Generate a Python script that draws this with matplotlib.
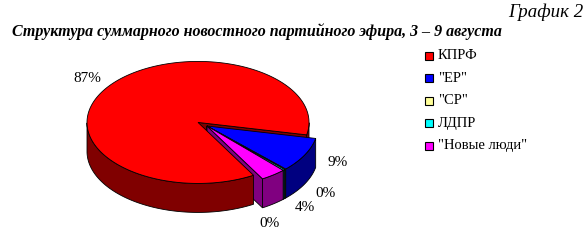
import numpy as np
import matplotlib
matplotlib.use("Agg")
import matplotlib.pyplot as plt
from matplotlib.patches import Polygon, Rectangle

# data
parties = ["КПРФ", '"ЕР"', '"СР"', "ЛДПР", '"Новые люди"']
shares = [86.6, 9.2, 0.2, 0.3, 3.7]
pct_labels = ["87%", "9%", "0%", "0%", "4%"]

# styles
top_colors = ["#FF0000", "#0000FF", "#FFFF99", "#00FFFF", "#FF00FF"]
side_colors = ["#800000", "#000080", "#80804C", "#008080", "#800080"]
explode = [0.1, 0, 0, 0, 0]
label_xy = [(87, 78), (338, 162), (325, 193), (269, 223), (305, 207)]

# pie geometry (pixels)
cx, cy = 207, 126
rx, ry = 111, 61
depth = 29
start = -60.0  # first wedge starts here, runs clockwise

plt.rcParams['font.family'] = ['Liberation Serif', 'DejaVu Serif']

fig = plt.figure(figsize=(5.88, 2.43), dpi=100)
ax = fig.add_axes([0, 0, 1, 1])
ax.set_xlim(0, 588)
ax.set_ylim(243, 0)
ax.axis("off")


def proj(X, Y, z=0.0):
    return (cx + rx * X, cy - ry * Y + depth * z)


fracs = np.array(shares) / sum(shares)
angles = start - 360 * np.concatenate([[0], np.cumsum(fracs)])

walls = []
tops = []
for i in range(len(shares)):
    a2, a1 = angles[i], angles[i + 1]  # ccw from a1 to a2
    mid = np.radians((a1 + a2) / 2)
    ox, oy = explode[i] * np.cos(mid), explode[i] * np.sin(mid)
    n = max(int(abs(a2 - a1) * 2), 2) + 1
    th = np.radians(np.linspace(a1, a2, n))
    X = ox + np.cos(th)
    Y = oy + np.sin(th)

    top = [proj(ox, oy)] + [proj(x, y) for x, y in zip(X, Y)]
    tops.append((top, top_colors[i]))

    # outer wall, front part only
    front = np.sin(th) < 0
    j = 0
    while j < n:
        if front[j]:
            k = j
            while k < n and front[k]:
                k += 1
            xs, ys = X[j:k], Y[j:k]
            if len(xs) > 1:
                poly = [proj(x, y) for x, y in zip(xs, ys)]
                poly += [proj(x, y, 1) for x, y in zip(xs[::-1], ys[::-1])]
                walls.append((ys.mean(), poly, side_colors[i]))
            j = k
        else:
            j += 1

    # cut faces
    for a, vis in ((a1, np.cos(np.radians(a1)) > 0), (a2, np.cos(np.radians(a2)) < 0)):
        if vis:
            ex, ey = ox + np.cos(np.radians(a)), oy + np.sin(np.radians(a))
            poly = [proj(ox, oy), proj(ex, ey), proj(ex, ey, 1), proj(ox, oy, 1)]
            walls.append(((oy + ey) / 2, poly, side_colors[i]))

walls.sort(key=lambda w: -w[0])
for _, poly, col in walls:
    ax.add_patch(Polygon(poly, closed=True, facecolor=col, edgecolor="black", lw=0.6))
for poly, col in tops:
    ax.add_patch(Polygon(poly, closed=True, facecolor=col, edgecolor="black", lw=0.6))

for lab, (x, y) in zip(pct_labels, label_xy):
    ax.text(x, y, lab, ha="center", va="center", fontsize=11)

# legend
for i, name in enumerate(parties):
    y = 55.5 + i * 22.5
    ax.add_patch(Rectangle((425, y - 4), 8, 8, facecolor=top_colors[i], edgecolor="black", lw=0.8))
    ax.text(438, y, name, ha="left", va="center", fontsize=10.5)

ax.text(583, 12, "График 2", ha="right", va="center", fontstyle="italic", fontsize=13.6)
ax.text(12, 32, "Структура суммарного новостного партийного эфира, 3 – 9 августа",
        ha="left", va="center", fontstyle="italic", fontweight="bold", fontsize=11.5)

plt.savefig("out.png", dpi=100)
